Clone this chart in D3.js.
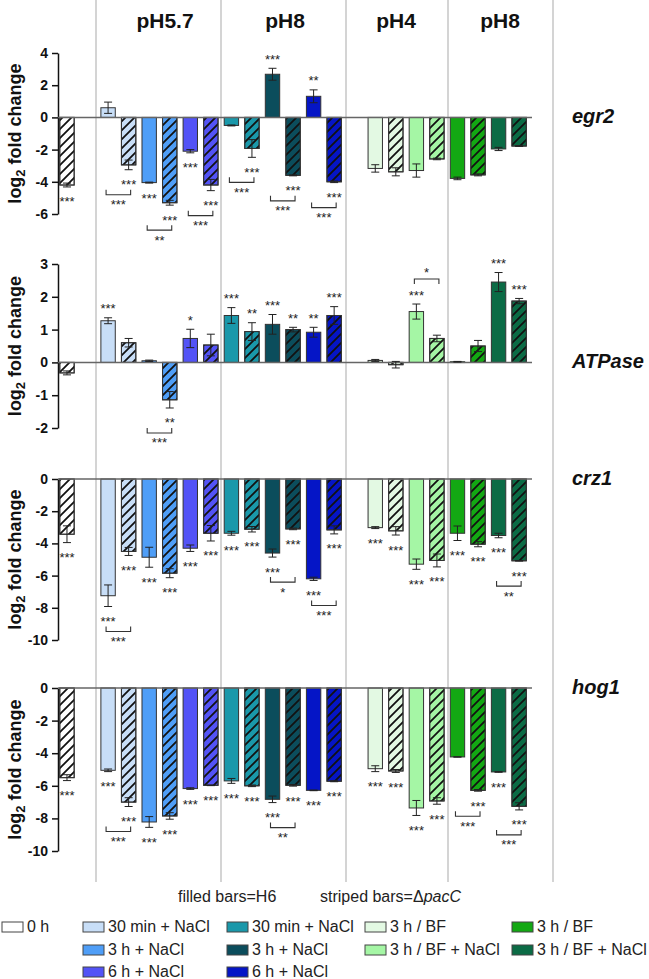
<!DOCTYPE html>
<html>
<head>
<meta charset="utf-8">
<script src="https://cdn.jsdelivr.net/npm/d3@7"></script>
<style>
  body { margin: 0; background: #fff; }
  svg { display: block; font-family: "Liberation Sans", Arial, sans-serif; }
</style>
</head>
<body>
<div id="chart"></div>
<script>
// conditions (one colour each) and their legend labels
const conditions = ["0h", "5.7-30", "5.7-3h", "5.7-6h", "8-30", "8-3h", "8-6h", "4-BF", "4-BFN", "8g-BF", "8g-BFN"]
const conditionLabels = ["0 h", "30 min + NaCl", "3 h + NaCl", "6 h + NaCl", "30 min + NaCl", "3 h + NaCl", "6 h + NaCl",
    "3 h / BF", "3 h / BF + NaCl", "3 h / BF", "3 h / BF + NaCl"]
const palette = ["#ffffff", "#c8def7", "#4f9ef7", "#5353f6", "#1a98aa", "#0b4d5c", "#0515c6", "#e3f9e3", "#a5f6a5", "#13a813", "#0b6b45"]
const groupTitles = ["pH5.7", "pH8", "pH4", "pH8"]

// bars, left to right
const barCondition = ["0h", "5.7-30", "5.7-30", "5.7-3h", "5.7-3h", "5.7-6h", "5.7-6h", "8-30", "8-30", "8-3h", "8-3h", "8-6h", "8-6h",
    "4-BF", "4-BF", "4-BFN", "4-BFN", "8g-BF", "8g-BF", "8g-BFN", "8g-BFN"]
const barStrain = ["ΔpacC", "H6", "ΔpacC", "H6", "ΔpacC", "H6", "ΔpacC", "H6", "ΔpacC", "H6", "ΔpacC", "H6", "ΔpacC",
    "H6", "ΔpacC", "H6", "ΔpacC", "H6", "ΔpacC", "H6", "ΔpacC"]

// egr2
const egr2Values = [-4.2, 0.6, -2.95, -4.05, -5.3, -2.1, -4.2, -0.5, -1.93, 2.68, -3.6, 1.31, -4.0, -3.17, -3.38, -3.3, -2.58, -3.79, -3.57, -1.96, -1.78]
const egr2Errors = [0.12, 0.35, 0.3, 0.03, 0.15, 0.1, 0.35, 0.03, 0.55, 0.37, 0.03, 0.4, 0.05, 0.23, 0.25, 0.41, 0.05, 0.08, 0.06, 0.1, 0.02]
const egr2Stars = ["***", "", "***", "***", "***", "***", "***", "", "***", "***", "***", "**", "***", "", "", "", "", "", "", "", ""]
const egr2Pairs = [[1, 2, "***"], [3, 4, "**"], [5, 6, "***"], [7, 8, "***"], [9, 10, "***"], [11, 12, "***"]]
const egr2Ticks = [-6, -4, -2, 0, 2, 4]

// ATPase
const atpaseValues = [-0.32, 1.27, 0.6, 0.05, -1.14, 0.73, 0.53, 1.43, 0.94, 1.16, 1.0, 0.92, 1.43, 0.06, -0.07, 1.55, 0.73, 0.02, 0.5, 2.45, 1.87]
const atpaseErrors = [0.06, 0.09, 0.13, 0.02, 0.25, 0.28, 0.33, 0.24, 0.27, 0.3, 0.07, 0.15, 0.27, 0.03, 0.1, 0.23, 0.1, 0.01, 0.17, 0.29, 0.08]
const atpaseStars = ["", "***", "", "", "**", "*", "", "***", "**", "***", "**", "**", "***", "", "", "***", "", "", "", "***", "***"]
const atpasePairs = [[3, 4, "***"], [15, 16, "*"]]
const atpaseTicks = [-2, -1, 0, 1, 2, 3]

// crz1
const crz1Values = [-3.43, -7.25, -4.5, -4.86, -5.85, -4.3, -3.37, -3.37, -3.12, -4.6, -3.1, -6.2, -3.16, -3.02, -3.22, -5.29, -5.06, -3.37, -4.05, -3.51, -5.08]
const crz1Errors = [0.52, 0.67, 0.25, 0.62, 0.28, 0.2, 0.48, 0.12, 0.17, 0.25, 0.05, 0.1, 0.25, 0.06, 0.26, 0.32, 0.4, 0.45, 0.16, 0.14, 0.02]
const crz1Stars = ["***", "***", "***", "***", "***", "***", "***", "***", "***", "***", "***", "***", "***", "***", "***", "***", "***", "***", "***", "***", "***"]
const crz1Pairs = [[1, 2, "***"], [9, 10, "*"], [11, 12, "***"], [19, 20, "**"]]
const crz1Ticks = [-10, -8, -6, -4, -2, 0]

// hog1
const hog1Values = [-5.5, -5.05, -7.0, -8.22, -7.85, -6.17, -5.97, -5.7, -6.0, -6.83, -5.97, -6.28, -5.72, -4.95, -5.09, -7.36, -6.93, -4.23, -6.28, -5.15, -7.26]
const hog1Errors = [0.18, 0.08, 0.27, 0.33, 0.2, 0.05, 0.02, 0.15, 0.05, 0.2, 0.05, 0.02, 0.03, 0.18, 0.09, 0.46, 0.2, 0.01, 0.05, 0.02, 0.22]
const hog1Stars = ["***", "***", "***", "***", "***", "***", "***", "***", "***", "***", "***", "***", "***", "***", "***", "***", "***", "", "***", "***", "***"]
const hog1Pairs = [[1, 2, "***"], [9, 10, "**"], [17, 18, "***"], [19, 20, "***"]]
const hog1Ticks = [-10, -8, -6, -4, -2, 0]


const width = 649, height = 979
const axisX = 58, zeroEnd = 532
const sepX = [96, 221, 346, 448, 553]
const titleX = [165, 285, 396, 500]
const FONT = "'Liberation Sans', Arial, sans-serif"

const panels = [
    {gene: "egr2", values: egr2Values, errors: egr2Errors, stars: egr2Stars, pairs: egr2Pairs, ticks: egr2Ticks, top: 53, bottom: 214},
    {gene: "ATPase", values: atpaseValues, errors: atpaseErrors, stars: atpaseStars, pairs: atpasePairs, ticks: atpaseTicks, top: 264, bottom: 428},
    {gene: "crz1", values: crz1Values, errors: crz1Errors, stars: crz1Stars, pairs: crz1Pairs, ticks: crz1Ticks, top: 479, bottom: 640},
    {gene: "hog1", values: hog1Values, errors: hog1Errors, stars: hog1Stars, pairs: hog1Pairs, ticks: hog1Ticks, top: 688, bottom: 851},
]

const color = d3.scaleOrdinal(conditions, palette)

// Band scale with two empty slots (after 0 h and between the blue and green blocks)
const barIds = barCondition.map((c, i) => c + "|" + barStrain[i])
const slots = [barIds[0], "gap1", ...barIds.slice(1, 13), "gap2", ...barIds.slice(13)]
const x = d3.scaleBand(slots, [56.7, 529.4]).paddingInner(0.3).paddingOuter(0.15)
const bw = x.bandwidth()
const cx = i => x(barIds[i]) + bw / 2

const svg = d3.select("#chart").append("svg")
    .attr("width", width)
    .attr("height", height)
    .attr("font-family", FONT)

// Stripe pattern
svg.append("defs").append("pattern")
    .attr("id", "stripes")
    .attr("patternUnits", "userSpaceOnUse")
    .attr("width", 9).attr("height", 9)
    .append("path")
    .attr("d", "M-1,10 L10,-1 M-1,1 L1,-1 M8,10 L10,8")
    .attr("stroke", "#111")
    .attr("stroke-width", 1.8)

// Separators
svg.append("g")
    .selectAll("line")
    .data(sepX)
    .join("line")
    .attr("x1", d => d).attr("x2", d => d)
    .attr("y1", 0).attr("y2", 882)
    .attr("stroke", "#bdbdbd")
    .attr("stroke-width", 1.3)

// Group titles
svg.append("g")
    .selectAll("text")
    .data(groupTitles)
    .join("text")
    .attr("x", (d, i) => titleX[i])
    .attr("y", 28)
    .attr("text-anchor", "middle")
    .attr("font-size", 21)
    .attr("font-weight", "bold")
    .attr("fill", "#111")
    .text(d => d)

const starGap = 12, starDy = 7.5

panels.forEach(p => {
    const y = d3.scaleLinear(d3.extent(p.ticks), [p.bottom, p.top])
    const g = svg.append("g").classed("panel", true)

    // y axis
    const axis = g.append("g")
        .attr("transform", `translate(${axisX},0)`)
        .call(d3.axisLeft(y).tickValues(p.ticks).tickSize(6).tickSizeOuter(0).tickPadding(4).tickFormat(d3.format("d")))
    axis.attr("font-family", FONT)
    axis.select(".domain").attr("stroke", "#111").attr("stroke-width", 1.5)
    axis.selectAll(".tick line").attr("stroke", "#111").attr("stroke-width", 1.5)
    axis.selectAll(".tick text")
        .attr("font-size", 14)
        .attr("font-weight", "bold")
        .attr("fill", "#111")
        .text(d => d < 0 ? "-" + Math.abs(d) : d)

    // axis title
    const title = g.append("text")
        .attr("transform", `translate(21,${(p.top + p.bottom) / 2}) rotate(-90)`)
        .attr("text-anchor", "middle")
        .attr("font-size", 18)
        .attr("font-weight", "bold")
        .attr("fill", "#111")
    title.append("tspan").text("log")
    title.append("tspan").attr("font-size", 13).attr("dy", 4).text("2")
    title.append("tspan").attr("dy", -4).text(" fold change")

    // gene label
    g.append("text")
        .attr("x", 572)
        .attr("y", y(0) + 6)
        .attr("font-size", 20)
        .attr("font-weight", "bold")
        .attr("font-style", "italic")
        .attr("fill", "#111")
        .text(p.gene)

    const bars = p.values.map((v, i) => ({v, err: p.errors[i], star: p.stars[i], i, cond: barCondition[i], striped: barStrain[i] !== "H6"}))

    // bars
    const barG = g.append("g")
    barG.selectAll("rect.fill")
        .data(bars)
        .join("rect")
        .classed("fill", true)
        .attr("x", d => x(barIds[d.i]))
        .attr("width", bw)
        .attr("y", d => Math.min(y(d.v), y(0)))
        .attr("height", d => Math.max(0.8, Math.abs(y(d.v) - y(0))))
        .attr("fill", d => color(d.cond))
        .attr("stroke", "#333")
        .attr("stroke-width", 1)
    barG.selectAll("rect.stripe")
        .data(bars.filter(d => d.striped))
        .join("rect")
        .classed("stripe", true)
        .attr("x", d => x(barIds[d.i]))
        .attr("width", bw)
        .attr("y", d => Math.min(y(d.v), y(0)))
        .attr("height", d => Math.abs(y(d.v) - y(0)))
        .attr("fill", "url(#stripes)")
        .attr("stroke", "#333")
        .attr("stroke-width", 1)

    // zero line
    g.append("line")
        .attr("x1", axisX).attr("x2", zeroEnd)
        .attr("y1", y(0)).attr("y2", y(0))
        .attr("stroke", "#666")
        .attr("stroke-width", 1.5)

    // error bars
    const errG = g.append("g").attr("stroke", "#222").attr("stroke-width", 1)
    bars.forEach(d => {
        const c = cx(d.i), y1 = y(d.v - d.err), y2 = y(d.v + d.err)
        errG.append("line").attr("x1", c).attr("x2", c).attr("y1", y1).attr("y2", y2)
        errG.append("line").attr("x1", c - 4).attr("x2", c + 4).attr("y1", y1).attr("y2", y1)
        errG.append("line").attr("x1", c - 4).attr("x2", c + 4).attr("y1", y2).attr("y2", y2)
    })

    // significance stars
    bars.forEach(d => {
        d.end = d.v >= 0 ? y(d.v + d.err) : y(d.v - d.err)
        d.starY = d.v >= 0 ? d.end - starGap : d.end + starGap
    })
    g.append("g")
        .selectAll("text")
        .data(bars.filter(d => d.star))
        .join("text")
        .attr("x", d => cx(d.i))
        .attr("y", d => d.starY + starDy)
        .attr("text-anchor", "middle")
        .attr("font-size", 13)
        .attr("fill", "#222")
        .text(d => d.star)

    // brackets between strains
    p.pairs.forEach(([a, b, label]) => {
        const below = Math.min(p.values[a], p.values[b]) < 0
        const refs = [a, b].map(i => bars[i].star ? bars[i].starY : bars[i].end)
        const yb = below ? d3.max(refs) + 13 : d3.min(refs) - 13
        const t = below ? -5 : 5
        const x1 = cx(a) - 2, x2 = cx(b) + 2
        g.append("path")
            .attr("d", `M${x1},${yb + t}V${yb}H${x2}V${yb + t}`)
            .attr("fill", "none")
            .attr("stroke", "#333")
            .attr("stroke-width", 1.1)
        g.append("text")
            .attr("x", (x1 + x2) / 2)
            .attr("y", (below ? yb + 7 : yb - 10) + starDy)
            .attr("text-anchor", "middle")
            .attr("font-size", 13)
            .attr("fill", "#222")
            .text(label)
    })
})

// Legend
const legendCols = [[0], [1, 2, 3], [4, 5, 6], [7, 8], [9, 10]]
const legendColX = [2, 83, 227, 365, 512]
const legendRowY = [932, 955, 977]

svg.append("text")
    .attr("x", 178).attr("y", 902)
    .attr("font-size", 16)
    .attr("fill", "#222")
    .text("filled bars=H6")
const striped = svg.append("text")
    .attr("x", 320).attr("y", 902)
    .attr("font-size", 16)
    .attr("fill", "#222")
striped.append("tspan").text("striped bars=Δ")
striped.append("tspan").attr("font-style", "italic").text("pacC")

const legend = svg.append("g")
legendCols.forEach((col, ci) => {
    col.forEach((k, ri) => {
        const item = legend.append("g")
            .attr("transform", `translate(${legendColX[ci]},${legendRowY[ri]})`)
        item.append("rect")
            .attr("x", 0).attr("y", -10)
            .attr("width", 21).attr("height", 10)
            .attr("fill", color(conditions[k]))
            .attr("stroke", "#444")
            .attr("stroke-width", 1)
        item.append("text")
            .attr("x", 25).attr("y", 0)
            .attr("font-size", 16)
            .attr("fill", "#222")
            .text(conditionLabels[k])
    })
})
</script>
</body>
</html>
